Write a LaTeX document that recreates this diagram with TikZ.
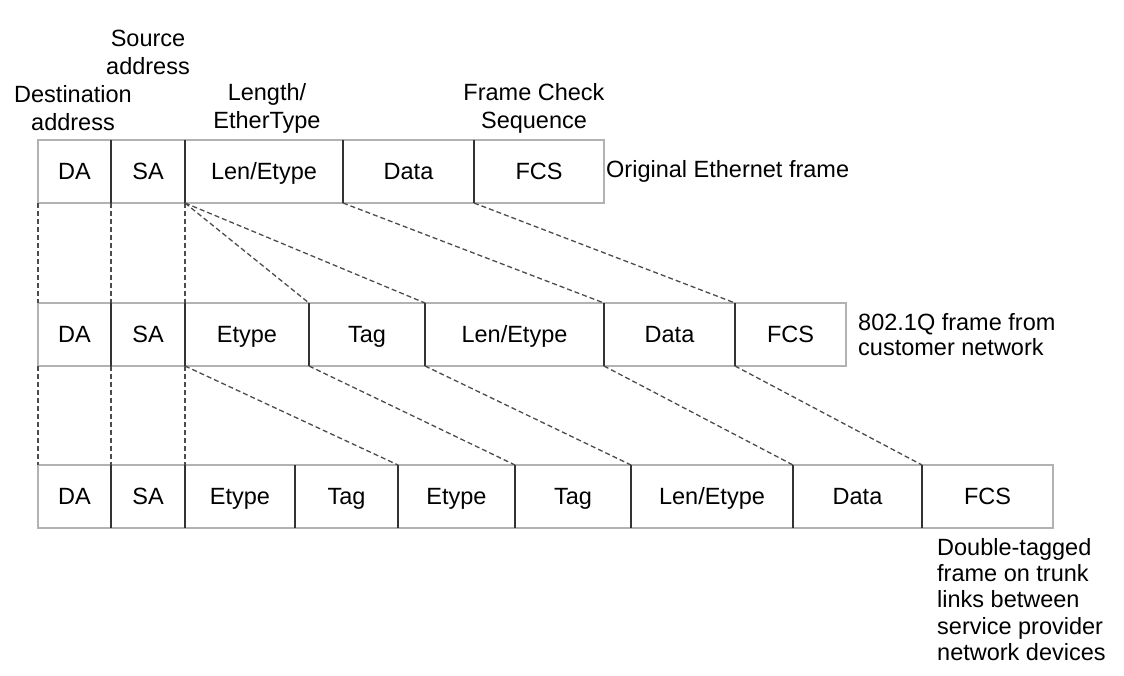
\documentclass[tikz,border=0pt]{standalone}
\usepackage{fontspec}
\setmainfont{Liberation Sans}
\usetikzlibrary{positioning}

\begin{document}
\begin{tikzpicture}[x=1pt, y=-1pt, node distance=0pt,
    field/.style={draw=gray!60, line width=1.2pt, minimum height=63pt, outer sep=0pt, inner sep=0pt,
        text height=19pt, text depth=3pt, font=\fontsize{23.5}{28}\selectfont},
    divider/.style={draw=black!80, line width=1.1pt},
    guide/.style={draw=black!70, line width=1.3pt, dash pattern=on 5pt off 3pt},
    caption/.style={align=center, inner sep=0pt, font=\fontsize{23.5}{28}\selectfont}]
    \useasboundingbox (0,0) rectangle (1124,676);

    % original frame
    \node[field, minimum width=73pt, anchor=north west] (da1) at (38,140) {DA};
    \node[field, minimum width=74pt, right=of da1] (sa1) {SA};
    \node[field, minimum width=158pt, right=of sa1] (len1) {Len/Etype};
    \node[field, minimum width=131pt, right=of len1] (data1) {Data};
    \node[field, minimum width=130pt, right=of data1] (fcs1) {FCS};

    % 802.1Q frame
    \node[field, minimum width=73pt, anchor=north west] (da2) at (38,303) {DA};
    \node[field, minimum width=74pt, right=of da2] (sa2) {SA};
    \node[field, minimum width=124pt, right=of sa2] (etype2) {Etype};
    \node[field, minimum width=116pt, right=of etype2] (tag2) {Tag};
    \node[field, minimum width=179pt, right=of tag2] (len2) {Len/Etype};
    \node[field, minimum width=131pt, right=of len2] (data2) {Data};
    \node[field, minimum width=111pt, right=of data2] (fcs2) {FCS};

    % double-tagged frame
    \node[field, minimum width=73pt, anchor=north west] (da3) at (38,465) {DA};
    \node[field, minimum width=74pt, right=of da3] (sa3) {SA};
    \node[field, minimum width=110pt, right=of sa3] (etypea3) {Etype};
    \node[field, minimum width=103pt, right=of etypea3] (taga3) {Tag};
    \node[field, minimum width=117pt, right=of taga3] (etypeb3) {Etype};
    \node[field, minimum width=116pt, right=of etypeb3] (tagb3) {Tag};
    \node[field, minimum width=162pt, right=of tagb3] (len3) {Len/Etype};
    \node[field, minimum width=129pt, right=of len3] (data3) {Data};
    \node[field, minimum width=131pt, right=of data3] (fcs3) {FCS};

    \foreach \n in {sa1,len1,data1,fcs1,sa2,etype2,tag2,len2,data2,fcs2,
                    sa3,etypea3,taga3,etypeb3,tagb3,len3,data3,fcs3}
        \draw[divider] (\n.north west) -- (\n.south west);

    % dashed guides
    \foreach \a/\b in {da1/da2, sa1/sa2, len1/etype2, len1/tag2, len1/len2, data1/data2, fcs1/fcs2,
                       da2/da3, sa2/sa3, etype2/etypea3, etype2/etypeb3, tag2/tagb3, len2/len3,
                       data2/data3, fcs2/fcs3}
        \draw[guide] (\a.south west) -- (\b.north west);

    % labels
    \node[caption] (salabel) at (148,52) {Source\\address};
    \node[caption] (dalabel) at (73,108) {Destination\\address};
    \node[caption] (lenlabel) at (267,108) {Length/\\EtherType};
    \node[caption] (fcslabel) at (534,108) {Frame Check\\Sequence};
    \node[caption, right=2pt of fcs1] (origlabel) {Original Ethernet frame};
    \node[caption, align=left, right=12pt of fcs2, font=\fontsize{23.5}{25}\selectfont] (custlabel)
        {802.1Q frame from\\customer network};
    \node[caption, align=left, anchor=north west, font=\fontsize{23.5}{26.3}\selectfont] (dbllabel)
        at (937,538) {Double-tagged\\frame on trunk\\links between\\service provider\\network devices};
\end{tikzpicture}
\end{document}
